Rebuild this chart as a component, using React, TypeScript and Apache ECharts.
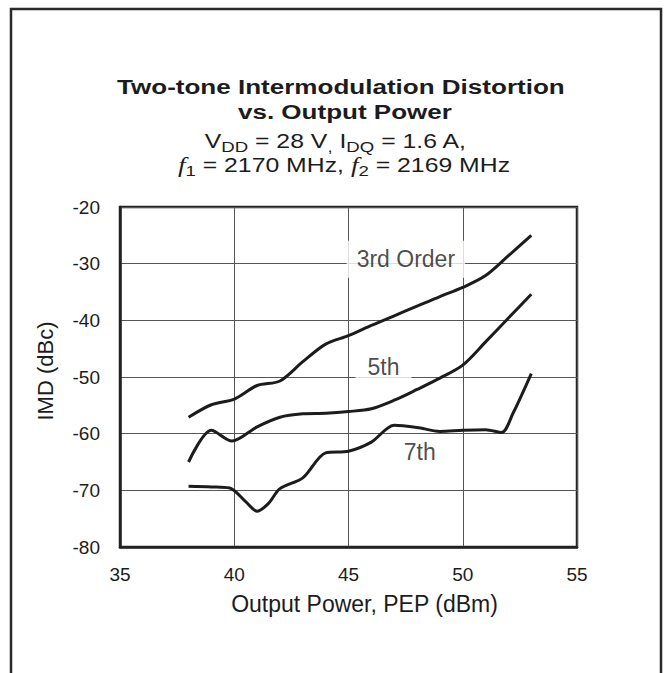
import React, { useEffect, useRef } from "react";
import * as echarts from "echarts";

// ---- data ----
const xTicks = [35, 40, 45, 50, 55];
const yTicks = [-80, -70, -60, -50, -40, -30, -20];

const power3rd = [38, 39, 40, 41, 42, 43, 44, 45, 46, 47, 48, 49, 50, 51, 52, 53];
const imd3rd = [-57.1, -54.9, -53.9, -51.5, -50.7, -47.3, -44.2, -42.7, -40.9, -39.2, -37.5, -35.8, -34.2, -32.1, -28.6, -25];

const power5th = [38, 39, 39.9, 41, 42, 43, 44, 45, 46, 47, 48, 49, 50, 51, 52, 53];
const imd5th = [-65, -59.4, -61.3, -58.8, -57.1, -56.5, -56.4, -56.1, -55.6, -54.1, -52.2, -50.2, -47.9, -43.8, -39.6, -35.4];

const power7th = [38, 39, 39.8, 40.5, 41, 41.5, 42, 43, 44, 45, 46, 47, 48, 49, 50, 51, 51.7, 52.2, 53];
const imd7th = [-69.3, -69.4, -69.6, -72, -73.7, -72.3, -69.7, -67.8, -63.4, -63.1, -61.5, -58.5, -58.9, -59.6, -59.4, -59.3, -59.8, -56.4, -49.4];

const labelNames = ["3rd Order", "5th", "7th"];
const labelPower = [47.51, 46.53, 48.12];
const labelImd = [-29.2, -48.2, -63.3];

const titleLine1 = "Two-tone Intermodulation Distortion";
const titleLine2 = "vs. Output Power";

const FONT = '"Liberation Sans", Arial, Helvetica, sans-serif';
const SERIF = '"Liberation Serif", "Times New Roman", serif';
const INK = "#1c1c1c";

type Seg = { t: string; sub?: boolean; serif?: boolean };

function buildLine(
  ctx: CanvasRenderingContext2D,
  segs: Seg[],
  fs: number,
  bold: boolean,
  cx: number,
  baseline: number,
  scaleX: number
) {
  const weight = bold ? "bold" : "normal";
  const pieces = segs.map((s) => {
    const size = s.sub ? Math.round(fs * 0.75) : s.serif ? fs + 2 : fs;
    const family = s.serif ? SERIF : FONT;
    const style = s.serif ? "italic" : "normal";
    ctx.font = `${style} ${weight} ${size}px ${family}`;
    const w = ctx.measureText(s.t).width;
    const lead = s.t.length - s.t.replace(/^\s+/, "").length;
    const leadW = lead > 0 ? ctx.measureText(s.t.slice(0, lead)).width : 0;
    return { s, size, family, style, w, leadW, trimmed: s.t.trim() };
  });
  const total = pieces.reduce((a, p) => a + p.w, 0);
  let x = -total / 2;
  const children: any[] = [];
  pieces.forEach((p) => {
    const dy = p.s.sub ? 4 : 0;
    children.push({
      type: "text",
      x: x + p.leadW,
      y: dy - 0.3465 * p.size,
      silent: true,
      style: {
        text: p.trimmed,
        fontSize: p.size,
        fontFamily: p.family,
        fontStyle: p.style,
        fontWeight: weight,
        fill: INK,
        align: "left",
        verticalAlign: "middle",
      },
    });
    x += p.w;
  });
  return { type: "group", x: cx, y: baseline, scaleX, children };
}

export default function App() {
  const ref = useRef<HTMLDivElement>(null);

  useEffect(() => {
    document.body.style.margin = "0";
    if (!ref.current) return;
    const chart = echarts.init(ref.current, undefined, { renderer: "svg" });
    const canvas = document.createElement("canvas");
    const ctx = canvas.getContext("2d") as CanvasRenderingContext2D;

    const pairs = (xs: number[], ys: number[]) => xs.map((x, i) => [x, ys[i]]);
    const SX = 1.24;

    const graphic: any[] = [
      {
        type: "rect",
        z: -10,
        silent: true,
        shape: { x: 11, y: 9, width: 650, height: 700 },
        style: { fill: "#fff", stroke: "#2a2a2a", lineWidth: 2.5 },
      },
      buildLine(ctx, [{ t: titleLine1 }], 21, true, 341, 94, SX),
      buildLine(ctx, [{ t: titleLine2 }], 21, true, 345, 119, SX),
      buildLine(
        ctx,
        [
          { t: "V" },
          { t: "DD", sub: true },
          { t: " = 28 V" },
          { t: ",", sub: true },
          { t: " I" },
          { t: "DQ", sub: true },
          { t: " = 1.6 A," },
        ],
        20,
        false,
        336,
        148,
        SX
      ),
      buildLine(
        ctx,
        [
          { t: "f", serif: true },
          { t: "1", sub: true },
          { t: " = 2170 MHz, " },
          { t: "f", serif: true },
          { t: "2", sub: true },
          { t: " = 2169 MHz" },
        ],
        20,
        false,
        344,
        172,
        SX
      ),
    ];

    const labelPads = [
      [7, 10],
      [5, 12],
      [2, 6],
    ];

    const option: any = {
      animation: false,
      backgroundColor: "#fff",
      textStyle: { fontFamily: FONT, color: INK },
      grid: {
        left: 120,
        top: 207,
        right: 88,
        bottom: 126,
        show: true,
        borderColor: "#222",
        borderWidth: 2.5,
        backgroundColor: "transparent",
      },
      graphic,
      xAxis: {
        type: "value",
        min: xTicks[0],
        max: xTicks[xTicks.length - 1],
        interval: xTicks[1] - xTicks[0],
        axisLine: { show: true, onZero: false, lineStyle: { color: "#222", width: 2.5 } },
        axisTick: { show: false },
        splitLine: { show: true, lineStyle: { color: "#555", width: 1 } },
        axisLabel: { fontSize: 19, color: INK, margin: 18, fontFamily: FONT },
        name: "Output Power, PEP (dBm)",
        nameLocation: "middle",
        nameGap: 45,
        nameTextStyle: { fontSize: 23, color: INK, fontFamily: FONT, padding: [0, 0, 0, 32] },
      },
      yAxis: {
        type: "value",
        min: yTicks[0],
        max: yTicks[yTicks.length - 1],
        interval: yTicks[1] - yTicks[0],
        axisLine: { show: true, onZero: false, lineStyle: { color: "#222", width: 2.5 } },
        axisTick: { show: false },
        splitLine: { show: true, lineStyle: { color: "#555", width: 1 } },
        axisLabel: { fontSize: 19, color: INK, margin: 20, fontFamily: FONT },
        name: "IMD (dBc)",
        nameLocation: "middle",
        nameGap: 64,
        nameTextStyle: { fontSize: 22, color: INK, fontFamily: FONT, padding: [0, 0, 0, 12] },
      },
      series: [
        {
          name: "3rd Order",
          type: "line",
          data: pairs(power3rd, imd3rd),
          showSymbol: false,
          smooth: 0.3,
          z: 3,
          lineStyle: { color: INK, width: 3 },
        },
        {
          name: "5th",
          type: "line",
          data: pairs(power5th, imd5th),
          showSymbol: false,
          smooth: 0.3,
          z: 3,
          lineStyle: { color: INK, width: 3 },
        },
        {
          name: "7th",
          type: "line",
          data: pairs(power7th, imd7th),
          showSymbol: false,
          smooth: 0.3,
          z: 3,
          lineStyle: { color: INK, width: 3 },
        },
        {
          name: "labels",
          type: "scatter",
          symbolSize: 0,
          silent: true,
          z: 2,
          data: labelNames.map((n, i) => ({
            value: [labelPower[i], labelImd[i]],
            name: n,
            label: { padding: labelPads[i] },
          })),
          label: {
            show: true,
            position: "inside",
            formatter: (p: any) => p.name,
            fontSize: 23,
            fontFamily: FONT,
            color: INK,
            backgroundColor: "#fff",
          },
        },
      ],
    };

    chart.setOption(option);
    return () => chart.dispose();
  }, []);

  return <div ref={ref} style={{ width: 665, height: 673 }} />;
}
